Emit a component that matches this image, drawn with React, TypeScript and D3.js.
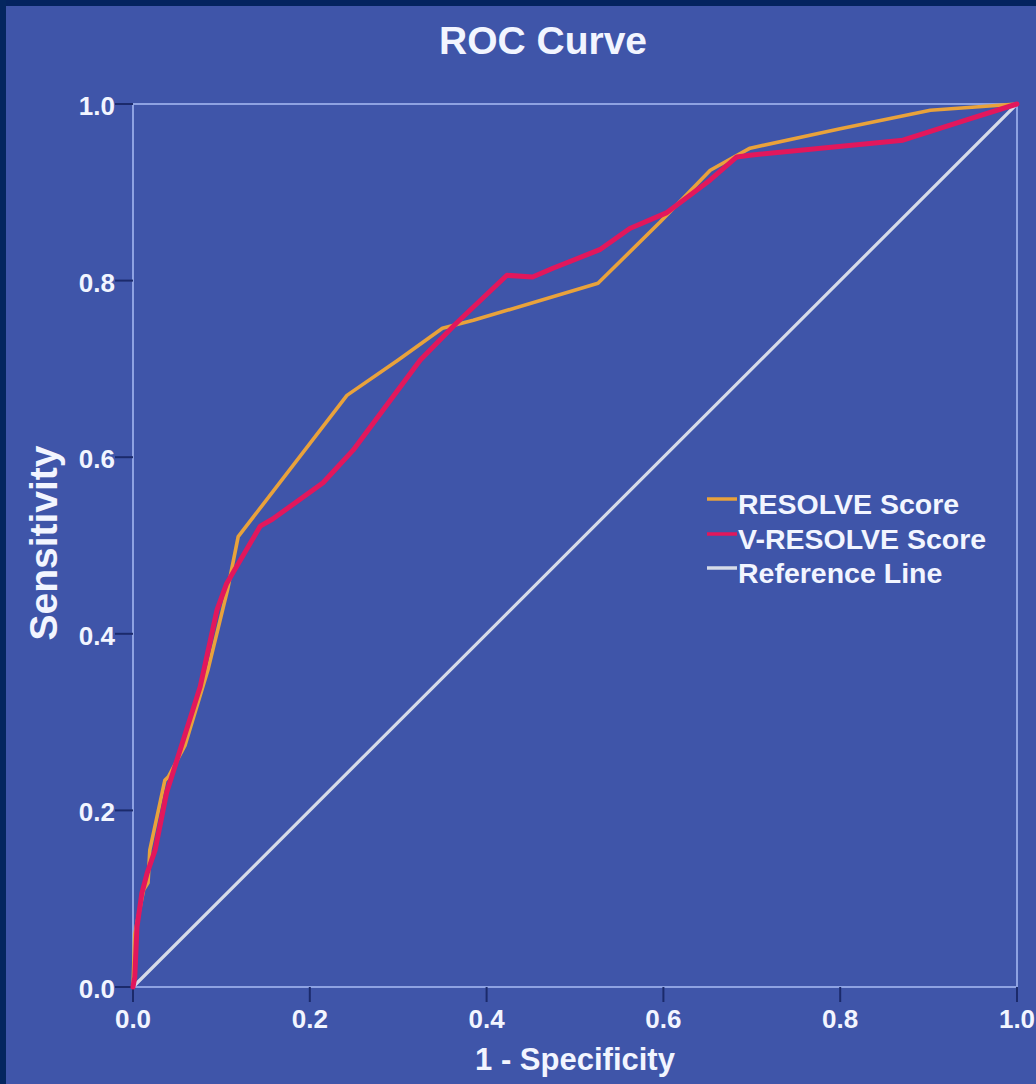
import React from "react";
import * as d3 from "d3";

const xTicks = [0, 0.2, 0.4, 0.6, 0.8, 1.0];
const yTicks = [0, 0.2, 0.4, 0.6, 0.8, 1.0];

const resolveFpr = [0, 0.002, 0.012, 0.017, 0.019, 0.036, 0.04, 0.059, 0.085, 0.107, 0.119, 0.242, 0.3, 0.35, 0.385, 0.526, 0.596, 0.653, 0.698, 0.8, 0.902, 1];
const resolveTpr = [0, 0.06, 0.11, 0.118, 0.155, 0.234, 0.238, 0.274, 0.36, 0.45, 0.51, 0.67, 0.71, 0.746, 0.755, 0.797, 0.866, 0.925, 0.95, 0.972, 0.993, 1];

const vresolveFpr = [0, 0.002, 0.0045, 0.01, 0.016, 0.025, 0.038, 0.076, 0.095, 0.106, 0.144, 0.158, 0.215, 0.249, 0.325, 0.366, 0.423, 0.452, 0.475, 0.528, 0.562, 0.604, 0.653, 0.683, 0.698, 0.871, 0.943, 1];
const vresolveTpr = [0, 0.011, 0.068, 0.106, 0.129, 0.155, 0.22, 0.34, 0.427, 0.457, 0.522, 0.53, 0.571, 0.608, 0.71, 0.752, 0.806, 0.804, 0.814, 0.835, 0.859, 0.877, 0.914, 0.94, 0.942, 0.959, 0.982, 1];

const refFpr = [0, 1];
const refTpr = [0, 1];

const seriesNames = ["RESOLVE Score", "V-RESOLVE Score", "Reference Line"];
const seriesColors = ["#e9a23b", "#e2175c", "#d6dbe8"];

const W = 1036;
const H = 1084;
const FONT = "'Liberation Sans', Arial, Helvetica, sans-serif";
const BG = "#3f55a9";
const TXT = "#f2f5ff";
const TICK = "#1b2a6b";

export default function App() {
  const x = d3.scaleLinear().domain([0, 1]).range([133, 1017]);
  const y = d3.scaleLinear().domain([0, 1]).range([987, 104]);
  const line = d3
    .line<[number, number]>()
    .x((d) => x(d[0]))
    .y((d) => y(d[1]));
  const zip = (a: number[], b: number[]) => a.map((v, i) => [v, b[i]] as [number, number]);

  const series = [
    { pts: zip(refFpr, refTpr), color: seriesColors[2], w: 3.2 },
    { pts: zip(resolveFpr, resolveTpr), color: seriesColors[0], w: 3.6 },
    { pts: zip(vresolveFpr, vresolveTpr), color: seriesColors[1], w: 5 },
  ];

  const legendY = [499, 534, 568];

  return (
    <svg
      width={W}
      height={H}
      style={{ position: "absolute", left: 0, top: 0, display: "block" }}
      fontFamily={FONT}
    >
      <rect x={0} y={0} width={W} height={H} fill={BG} />
      <rect x={0} y={0} width={W} height={6} fill="#04235f" />
      <rect x={0} y={0} width={6} height={H} fill="#04265f" />

      <text x={543} y={54} textAnchor="middle" fontSize={39} fontWeight="bold" fill={TXT}>
        ROC Curve
      </text>

      {/* plot frame */}
      <rect
        x={x(0)}
        y={y(1)}
        width={x(1) - x(0)}
        height={y(0) - y(1)}
        fill="none"
        stroke="#8ea2e2"
        strokeWidth={2}
      />

      {/* y ticks */}
      {yTicks.map((t) => (
        <g key={"y" + t}>
          <line x1={115} x2={x(0)} y1={y(t)} y2={y(t)} stroke={TICK} strokeWidth={2} />
          <text x={115} y={y(t) + 11} textAnchor="end" fontSize={26} fontWeight="bold" fill={TXT}>
            {t.toFixed(1)}
          </text>
        </g>
      ))}

      {/* x ticks */}
      {xTicks.map((t) => (
        <g key={"x" + t}>
          <line x1={x(t)} x2={x(t)} y1={y(0)} y2={1002} stroke={TICK} strokeWidth={2} />
          <text x={x(t)} y={1028} textAnchor="middle" fontSize={26} fontWeight="bold" fill={TXT}>
            {t.toFixed(1)}
          </text>
        </g>
      ))}

      <text
        transform={`translate(57,543) rotate(-90)`}
        textAnchor="middle"
        fontSize={39}
        fontWeight="bold"
        fill={TXT}
      >
        Sensitivity
      </text>
      <text x={575} y={1070} textAnchor="middle" fontSize={31} fontWeight="bold" fill={TXT}>
        1 - Specificity
      </text>

      {series.map((s, i) => (
        <path
          key={i}
          d={line(s.pts) || ""}
          fill="none"
          stroke={s.color}
          strokeWidth={s.w}
          strokeLinejoin="round"
          strokeLinecap="round"
        />
      ))}

      {/* legend */}
      {seriesNames.map((n, i) => (
        <g key={n}>
          <line x1={707} x2={737} y1={legendY[i]} y2={legendY[i]} stroke={seriesColors[i]} strokeWidth={3.5} />
          <text x={738} y={legendY[i] + 15} fontSize={28.5} fontWeight="bold" fill={TXT}>
            {n}
          </text>
        </g>
      ))}
    </svg>
  );
}
